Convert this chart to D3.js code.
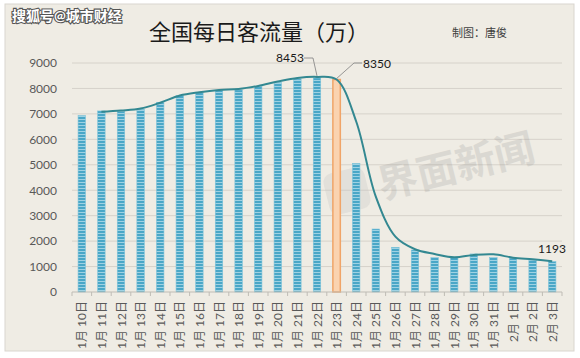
<!DOCTYPE html>
<html><head><meta charset="utf-8">
<script src="https://cdn.jsdelivr.net/npm/d3@7"></script>
<style>
html,body{margin:0;padding:0;background:#fff;}
svg{display:block;}
text{font-family:Lato,"Noto Sans CJK SC",sans-serif;}
</style></head>
<body>
<svg id="c" width="580" height="358"></svg>
<script>
const categories = ["1月 10日","1月 11日","1月 12日","1月 13日","1月 14日","1月 15日","1月 16日","1月 17日","1月 18日","1月 19日","1月 20日","1月 21日","1月 22日","1月 23日","1月 24日","1月 25日","1月 26日","1月 27日","1月 28日","1月 29日","1月 30日","1月 31日","2月 1日","2月 2日","2月 3日"];
const barValues = [6930,7115,7090,7180,7455,7720,7850,7915,7940,8070,8230,8370,8410,8350,5050,2475,1755,1650,1350,1350,1495,1350,1335,1260,1193];
const lineValues = [null,7080,7130,7210,7440,7720,7850,7940,7980,8100,8270,8410,8453,8350,6700,3750,2175,1680,1495,1365,1455,1480,1350,1285,1210];
const highlightCategory = "1月 23日";
const yTicks = [0,1000,2000,3000,4000,5000,6000,7000,8000,9000];
const title = "全国每日客流量（万）";
const source = "搜狐号@城市财经";
const credit = "制图：唐俊";
const watermark = "界面新闻";
const annotations = [
  {cat:"1月 22日", text:"8453", tx:290, ty:62, path:[[304,58],[313,58]]},
  {cat:"1月 23日", text:"8350", tx:377, ty:68, path:[[362,63],[354,63]]},
  {cat:"2月 3日", text:"1193", tx:552, ty:253, path:null}
];

const svg = d3.select("#c");
svg.append("rect").attr("x",5).attr("y",4).attr("width",569).attr("height",347)
  .attr("fill","#efece4").attr("stroke","#d9d6cf").attr("stroke-width",1);

const defs = svg.append("defs");
const pat = defs.append("pattern").attr("id","stripe").attr("patternUnits","userSpaceOnUse")
  .attr("width",4).attr("height",3);
pat.append("rect").attr("width",4).attr("height",3).attr("fill","#4aa7c7");
pat.append("rect").attr("y",2).attr("width",4).attr("height",1).attr("fill","#9fd2e3");

const x = d3.scaleBand().domain(categories).range([72,562]).paddingInner(0.62).paddingOuter(0.31);
const y = d3.scaleLinear().domain([0,9000]).range([292,63]);

svg.append("g").selectAll("line").data(yTicks.filter(d=>d>0)).join("line")
  .attr("x1",72).attr("x2",562).attr("y1",d=>y(d)).attr("y2",d=>y(d))
  .attr("stroke","#d6d2ca").attr("stroke-width",1);

const ya = svg.append("g").attr("transform","translate(59,0)")
  .call(d3.axisLeft(y).tickValues(yTicks).tickFormat(d3.format("d")).tickSize(0).tickPadding(2));
ya.select(".domain").remove();
ya.selectAll("text").attr("font-size",12).attr("fill","#595959").attr("font-family","Lato,sans-serif");

// watermark
const wm = svg.append("g").attr("transform","translate(457,170) rotate(-14)").attr("opacity",0.2);
wm.append("text").attr("text-anchor","middle").attr("dominant-baseline","middle")
  .attr("font-size",40).attr("font-weight","bold").attr("fill","#8c8c8c")
  .attr("font-family","'Noto Sans CJK SC',sans-serif").text(watermark);
svg.append("rect").attr("x",326).attr("y",170).attr("width",42).attr("height",42).attr("rx",9)
  .attr("transform","rotate(-14,347,191)").attr("fill","#c4c4c4").attr("opacity",0.3);

svg.append("g").selectAll("rect").data(categories.map((c,i)=>({c,v:barValues[i]}))).join("rect")
  .attr("x",d=>x(d.c)).attr("width",x.bandwidth())
  .attr("y",d=>y(d.v)).attr("height",d=>y(0)-y(d.v))
  .attr("fill",d=>d.c===highlightCategory?"#fad3b0":"url(#stripe)")
  .attr("stroke",d=>d.c===highlightCategory?"#f0a468":"#7cc3da")
  .attr("stroke-width",d=>d.c===highlightCategory?1.5:0.6);

const line = d3.line().defined(d=>d.v!=null)
  .x(d=>x(d.c)+x.bandwidth()/2).y(d=>y(d.v)).curve(d3.curveCatmullRom.alpha(0.5));
svg.append("path").datum(categories.map((c,i)=>({c,v:lineValues[i]})))
  .attr("d",line).attr("fill","none").attr("stroke","#338891").attr("stroke-width",2);

const xa = svg.append("g").attr("transform","translate(0,292)");
xa.append("line").attr("x1",72).attr("x2",562).attr("stroke","#bfbcb5");
const edges = d3.range(categories.length+1).map(i=>72+i*x.step());
xa.selectAll("line.t").data(edges).join("line").attr("class","t")
  .attr("x1",d=>d).attr("x2",d=>d).attr("y1",0).attr("y2",4).attr("stroke","#bfbcb5");
xa.selectAll("text").data(categories).join("text")
  .attr("transform",d=>`translate(${x(d)+x.bandwidth()/2+4.5},9) rotate(-90)`)
  .attr("text-anchor","end").attr("font-size",12).attr("fill","#595959")
  .attr("font-family","'Noto Sans CJK SC',sans-serif").text(d=>d);

annotations.forEach(a=>{
  const i = categories.indexOf(a.cat);
  const px = x(a.cat)+x.bandwidth()/2, py = y(lineValues[i]);
  if(a.path){
    const pts = a.path.concat([[px,py-1]]);
    svg.append("path").attr("d",d3.line()(pts)).attr("fill","none").attr("stroke","#7f7f7f").attr("stroke-width",0.8);
  }
  svg.append("text").attr("x",a.tx).attr("y",a.ty).attr("text-anchor","middle")
    .attr("font-size",12).attr("fill","#1a1a1a").text(a.text);
});

svg.append("text").attr("x",259).attr("y",40).attr("text-anchor","middle")
  .attr("font-size",22).attr("fill","#1a1a1a").attr("font-family","'Noto Sans CJK SC',sans-serif").text(title);
svg.append("text").attr("x",507).attr("y",37).attr("text-anchor","end")
  .attr("font-size",11).attr("fill","#404040").attr("font-family","'Noto Sans CJK SC',sans-serif").text(credit);
svg.append("text").attr("x",12).attr("y",21)
  .attr("font-size",14).attr("font-weight","bold").attr("fill","#ffffff")
  .attr("stroke","#555").attr("stroke-width",2.2).attr("paint-order","stroke")
  .attr("font-family","'Noto Sans CJK SC',sans-serif").text(source);
</script>
</body></html>
